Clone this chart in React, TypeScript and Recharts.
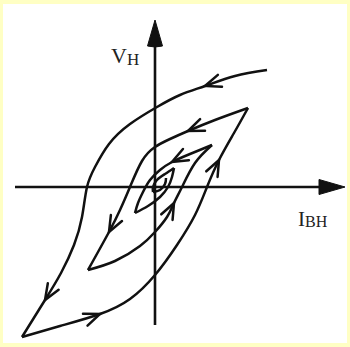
import { Customized, Line, LineChart, ReferenceLine, XAxis, YAxis } from "recharts"

type Pt = { x: number; y: number; arrow?: boolean }

// I_BH on x, V_H on y, same units on both axes
const outerDown: Pt[] = [
  { x: 11.2, y: 11.7 },
  { x: 8.0, y: 11.1 },
  { x: 5.0, y: 10.1, arrow: true },
  { x: 2.5, y: 9.2 },
  { x: 0.2, y: 8.0 },
  { x: -2.5, y: 6.3 },
  { x: -4.6, y: 4.3 },
  { x: -6.0, y: 2.0 },
  { x: -6.8, y: 0 },
  { x: -7.3, y: -3.0 },
  { x: -8.1, y: -5.8 },
  { x: -9.4, y: -8.6 },
  { x: -11.0, y: -11.3, arrow: true },
  { x: -13.3, y: -15.0 },
]

const outerUp: Pt[] = [
  { x: -13.3, y: -15.0 },
  { x: -9.5, y: -13.9 },
  { x: -5.5, y: -12.7, arrow: true },
  { x: -2.5, y: -11.2 },
  { x: 0, y: -8.8 },
  { x: 2.2, y: -5.8 },
  { x: 4.0, y: -2.8 },
  { x: 5.2, y: 0 },
  { x: 6.4, y: 2.7, arrow: true },
  { x: 7.9, y: 5.4 },
  { x: 9.3, y: 7.9 },
]

const middleDown: Pt[] = [
  { x: 9.3, y: 7.9 },
  { x: 6.0, y: 6.7 },
  { x: 3.3, y: 5.6, arrow: true },
  { x: 1.5, y: 4.8 },
  { x: 0, y: 4.0 },
  { x: -1.3, y: 2.6 },
  { x: -2.5, y: 0 },
  { x: -3.5, y: -2.3 },
  { x: -4.6, y: -4.5, arrow: true },
  { x: -6.7, y: -8.3 },
]

const middleUp: Pt[] = [
  { x: -6.7, y: -8.3 },
  { x: -4.0, y: -7.4 },
  { x: -1.5, y: -5.9 },
  { x: 0, y: -4.5 },
  { x: 1.2, y: -3.0 },
  { x: 1.9, y: -1.6, arrow: true },
  { x: 2.7, y: 0 },
  { x: 4.0, y: 2.4 },
  { x: 5.7, y: 4.2 },
]

const innerDown: Pt[] = [
  { x: 5.7, y: 4.2 },
  { x: 3.5, y: 3.3 },
  { x: 1.7, y: 2.5, arrow: true },
  { x: 0.5, y: 1.7 },
  { x: -0.5, y: 0.7 },
  { x: -1.2, y: -0.5 },
  { x: -1.7, y: -1.6 },
  { x: -2.0, y: -2.6 },
]

const innerUp: Pt[] = [
  { x: -2.0, y: -2.6 },
  { x: -0.7, y: -1.9 },
  { x: 0.5, y: -1.0 },
  { x: 1.3, y: 0 },
  { x: 1.7, y: 1.0 },
  { x: 1.9, y: 1.9 },
]

const coreDown: Pt[] = [
  { x: 1.9, y: 1.9 },
  { x: 1.0, y: 1.3 },
  { x: 0.2, y: 0.7 },
  { x: -0.2, y: 0 },
  { x: -0.2, y: -0.5 },
]

const coreUp: Pt[] = [
  { x: -0.2, y: -0.5 },
  { x: 0.5, y: -0.3 },
  { x: 1.0, y: 0.3 },
  { x: 1.1, y: 0.9 },
]

const branches = [outerDown, outerUp, middleDown, middleUp, innerDown, innerUp, coreDown, coreUp]

const xDomain: [number, number] = [-14.5, 19.0]
const yDomain: [number, number] = [-15.3, 17.2]
const xAxisEnds = [-14.0, 19.0]
const yAxisEnds = [-13.8, 16.7]

const INK = "#111"

// open chevron pointing along the direction of travel
const arrowDot = (branch: Pt[]) => (props: any) => {
  const { cx, cy, index } = props
  const p = branch[index]
  if (!p || !p.arrow || cx == null || cy == null) return <g key={`d-${index}`} />
  const prev = branch[Math.max(index - 1, 0)]
  const next = branch[Math.min(index + 1, branch.length - 1)]
  const ang = Math.atan2(-(next.y - prev.y), next.x - prev.x)
  const len = 17
  const spread = 0.38
  const a1 = ang + Math.PI - spread
  const a2 = ang + Math.PI + spread
  const d = `M${cx + len * Math.cos(a1)},${cy + len * Math.sin(a1)} L${cx},${cy} L${cx + len * Math.cos(a2)},${cy + len * Math.sin(a2)}`
  return <path key={`d-${index}`} d={d} fill="none" stroke={INK} strokeWidth={2.5} strokeLinecap="round" strokeLinejoin="miter" />
}

const AxisArrow = (props: any) => {
  const { x1, y1, x2, y2 } = props
  const ang = Math.atan2(y2 - y1, x2 - x1)
  const head = 26
  const half = 7.5
  const bx = x2 - head * Math.cos(ang)
  const by = y2 - head * Math.sin(ang)
  const nx = -Math.sin(ang) * half
  const ny = Math.cos(ang) * half
  return (
    <g>
      <line x1={x1} y1={y1} x2={bx} y2={by} stroke={INK} strokeWidth={2.6} />
      <path d={`M${x2},${y2} L${bx + nx},${by + ny} Q${bx},${by - 2 * Math.sin(ang)} ${bx - nx},${by - ny} Z`} fill={INK} stroke={INK} strokeWidth={1} strokeLinejoin="round" />
    </g>
  )
}

const AxisLabels = () => (
  <g fontFamily="'Liberation Serif', 'DejaVu Serif', serif" fill="#222">
    <text x={111} y={63} fontSize={22}>
      V
      <tspan fontSize={17} dy={2}>H</tspan>
    </text>
    <text x={298} y={226} fontSize={21}>
      I
      <tspan fontSize={16} dy={1}>BH</tspan>
    </text>
  </g>
)

export default function App() {
  return (
    <div style={{ position: "absolute", left: 0, top: 0, width: 350, height: 347, background: "#ffffc4" }}>
      <div style={{ position: "absolute", left: 3, top: 4, width: 344, height: 339, background: "#fff" }} />
      <div style={{ position: "absolute", left: 0, top: 0 }}>
        <LineChart width={350} height={347} margin={{ top: 15, right: 5, bottom: 7, left: 10 }}>
          <XAxis type="number" dataKey="x" domain={xDomain} allowDataOverflow hide />
          <YAxis type="number" dataKey="y" domain={yDomain} allowDataOverflow hide />
          <ReferenceLine
            segment={[{ x: xAxisEnds[0], y: 0 }, { x: xAxisEnds[1], y: 0 }]}
            ifOverflow="visible"
            shape={AxisArrow}
          />
          <ReferenceLine
            segment={[{ x: 0, y: yAxisEnds[0] }, { x: 0, y: yAxisEnds[1] }]}
            ifOverflow="visible"
            shape={AxisArrow}
          />
          {branches.map((b, i) => (
            <Line
              key={i}
              data={b}
              dataKey="y"
              type="natural"
              stroke={INK}
              strokeWidth={2.5}
              dot={arrowDot(b)}
              activeDot={false}
              isAnimationActive={false}
            />
          ))}
          <Customized component={AxisLabels} />
        </LineChart>
      </div>
    </div>
  )
}
